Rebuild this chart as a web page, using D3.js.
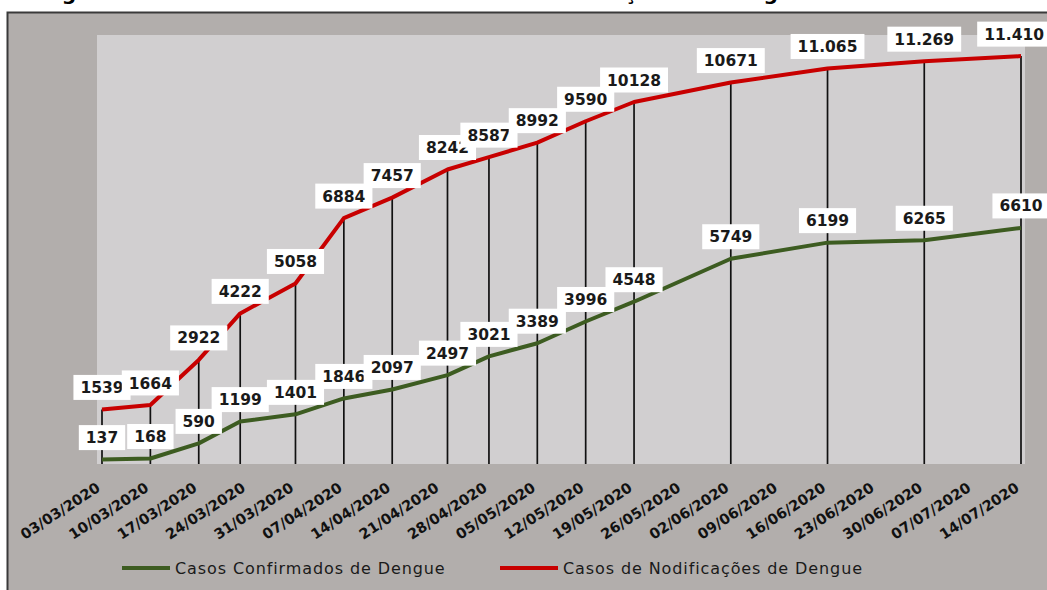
<!DOCTYPE html>
<html><head><meta charset="utf-8">
<script src="https://cdn.jsdelivr.net/npm/d3@7"></script>
<style>body{margin:0;background:#fff;} svg{display:block;}</style>
</head><body>
<svg id="chart" width="1047" height="590"></svg>
<script>
const titleText = "Figura 1 - Número de Casos Confirmados e Notificações de Dengue";
const pointDates = ["03/03/2020","10/03/2020","17/03/2020","23/03/2020","31/03/2020","07/04/2020","14/04/2020","22/04/2020","28/04/2020","05/05/2020","12/05/2020","19/05/2020","02/06/2020","16/06/2020","30/06/2020","14/07/2020"];
const confirmed = [137,168,590,1199,1401,1846,2097,2497,3021,3389,3996,4548,5749,6199,6265,6610];
const notified = [1539,1664,2922,4222,5058,6884,7457,8242,8587,8992,9590,10128,10671,11065,11269,11410];
const notifiedLabels = ["1539","1664","2922","4222","5058","6884","7457","8242","8587","8992","9590","10128","10671","11.065","11.269","11.410"];
const confirmedLabels = ["137","168","590","1199","1401","1846","2097","2497","3021","3389","3996","4548","5749","6199","6265","6610"];
const tickLabels = ["03/03/2020","10/03/2020","17/03/2020","24/03/2020","31/03/2020","07/04/2020","14/04/2020","21/04/2020","28/04/2020","05/05/2020","12/05/2020","19/05/2020","26/05/2020","02/06/2020","09/06/2020","16/06/2020","23/06/2020","30/06/2020","07/07/2020","14/07/2020"];
const seriesNames = ["Casos Confirmados de Dengue","Casos de Nodificações de Dengue"];
const yMax = 12000;

const parse = d3.timeParse("%d/%m/%Y");
const svg = d3.select("#chart");
const W = 1047, H = 590;
const plot = {left:97, right:1025, top:35, bottom:464};

// title (mostly cut off at top, as in the reference)
svg.append("text").attr("x",41).attr("y",0)
  .attr("font-family","DejaVu Sans").attr("font-weight","bold").attr("font-size",20.3)
  .attr("fill","#000").text(titleText);

// outer chart area
svg.append("rect").attr("x",7.5).attr("y",12.5).attr("width",W+20).attr("height",H)
  .attr("fill","#b2aeac").attr("stroke","#3a3a3a").attr("stroke-width",2);
// plot area
svg.append("rect").attr("x",plot.left).attr("y",plot.top)
  .attr("width",plot.right-plot.left).attr("height",plot.bottom-plot.top).attr("fill","#d1cfd0");

const x = d3.scaleTime().domain([parse(tickLabels[0]), parse(tickLabels[tickLabels.length-1])]).range([102,1021]);
const y = d3.scaleLinear().domain([0,yMax]).range([plot.bottom+0.5, plot.top]);

const pts = pointDates.map((d,i)=>({date:parse(d), c:confirmed[i], n:notified[i], cl:confirmedLabels[i], nl:notifiedLabels[i]}));

// x axis labels
const xAxis = d3.axisBottom(x).tickValues(tickLabels.map(parse)).tickFormat(d3.timeFormat("%d/%m/%Y")).tickSize(0);
const gx = svg.append("g").attr("transform",`translate(0,${plot.bottom})`).call(xAxis);
gx.select(".domain").remove();
gx.selectAll("text")
  .attr("font-family","DejaVu Sans").attr("font-weight","bold").attr("font-size",14.5).attr("fill","#111")
  .attr("text-anchor","end").attr("dy","0.35em").attr("y",0)
  .attr("transform","translate(-4,22) rotate(-33)");

// drop lines
svg.append("g").selectAll("line").data(pts).join("line")
  .attr("x1",d=>x(d.date)).attr("x2",d=>x(d.date))
  .attr("y1",d=>y(d.n)).attr("y2",plot.bottom)
  .attr("stroke","#111").attr("stroke-width",1.7);

// lines
const lineC = d3.line().x(d=>x(d.date)).y(d=>y(d.c));
const lineN = d3.line().x(d=>x(d.date)).y(d=>y(d.n));
svg.append("path").datum(pts).attr("d",lineC).attr("fill","none")
  .attr("stroke","#3d5c21").attr("stroke-width",4).attr("stroke-linejoin","round");
svg.append("path").datum(pts).attr("d",lineN).attr("fill","none")
  .attr("stroke","#c80000").attr("stroke-width",4).attr("stroke-linejoin","round");

// data labels
function labels(key, lab){
  const g = svg.append("g");
  pts.forEach(d=>{
    const gg = g.append("g");
    const r = gg.append("rect").attr("fill","#fff");
    const t = gg.append("text").attr("font-family","DejaVu Sans").attr("font-weight","bold")
      .attr("font-size",15.5).attr("fill","#1a1a1a").attr("text-anchor","middle").attr("dy","0.36em").text(d[lab]);
    const w = t.node().getComputedTextLength();
    let cx = x(d.date);
    if (cx + w/2 > W - 3) cx = W - 3 - w/2;
    const cy = y(d[key]) - 22;
    t.attr("x",cx).attr("y",cy);
    r.attr("x",cx-w/2-7).attr("y",cy-12.5).attr("width",w+14).attr("height",25);
  });
}
labels("c","cl");
labels("n","nl");

// legend
const leg = svg.append("g");
const legItems = [{name:seriesNames[0],color:"#3d5c21",x1:122,x2:170},{name:seriesNames[1],color:"#c80000",x1:500,x2:558}];
legItems.forEach(it=>{
  leg.append("line").attr("x1",it.x1).attr("x2",it.x2).attr("y1",568).attr("y2",568)
    .attr("stroke",it.color).attr("stroke-width",4);
  leg.append("text").attr("x",it.x2+5).attr("y",568).attr("dy","0.35em")
    .attr("font-family","DejaVu Sans").attr("font-size",16).attr("letter-spacing","0.9px")
    .attr("fill","#1a1a1a").text(it.name);
});
</script>
</body></html>
